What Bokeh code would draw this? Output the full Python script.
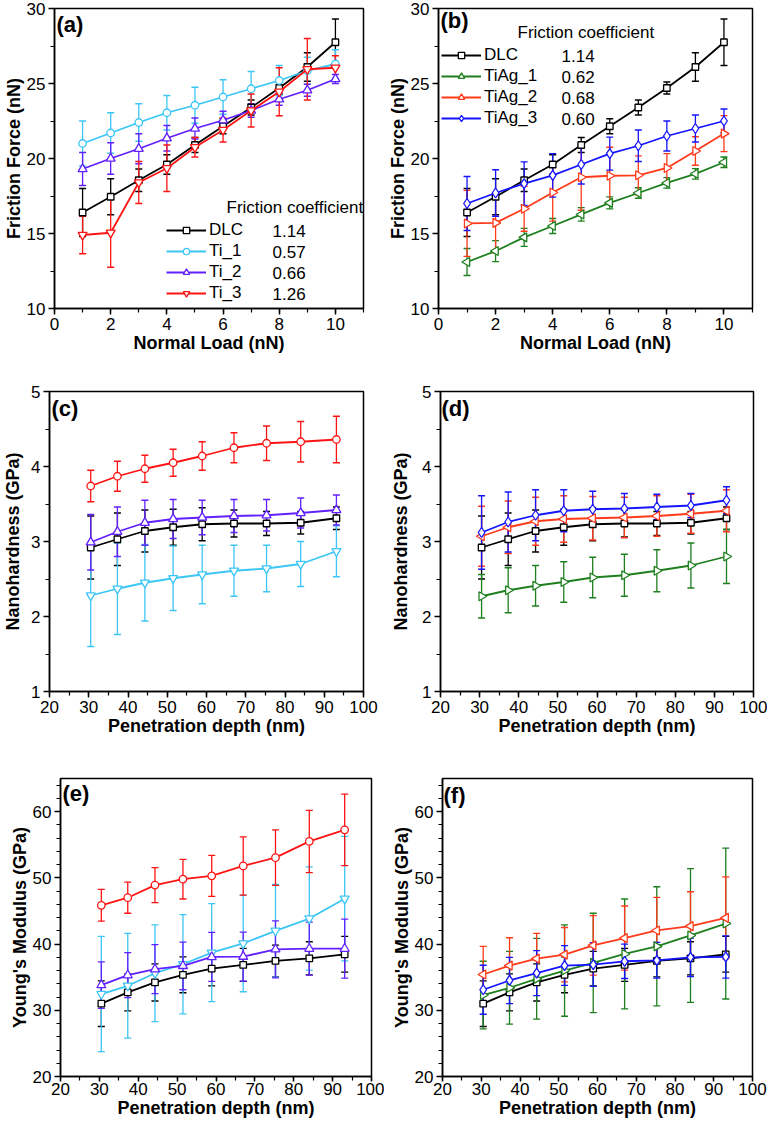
import math
from bokeh.plotting import figure
from bokeh.models import (ColumnDataSource, Whisker, TeeHead, Legend, LegendItem,
                          Label, SingleIntervalTicker, Range1d)
from bokeh.layouts import column, row
from bokeh.embed import file_html
from bokeh.resources import INLINE

FONT = "Liberation Sans"

# ---------------- data ----------------
normal_load = [1, 2, 3, 4, 5, 6, 7, 8, 9, 10]
depth = [30.5, 37.3, 44.3, 51.5, 58.9, 67.0, 75.3, 84.0, 93.1]

# friction force (nN) vs normal load
dlc_f = [16.4, 17.45, 18.55, 19.6, 20.9, 22.15, 23.4, 24.7, 26.1, 27.75]
dlc_f_err = [1.6, 1.2, 0.75, 0.65, 0.5, 0.5, 0.5, 0.4, 0.95, 1.55]
ti1_f = [21.0, 21.7, 22.4, 23.05, 23.55, 24.1, 24.65, 25.2, 25.85, 26.3]
ti1_f_err = [1.5, 1.35, 1.25, 1.15, 1.2, 1.15, 1.15, 1.0, 0.9, 0.95]
ti2_f = [19.3, 20.0, 20.65, 21.35, 22.0, 22.55, 23.2, 23.95, 24.55, 25.3]
ti2_f_err = [1.1, 1.05, 1.0, 0.85, 0.7, 0.6, 0.45, 0.4, 0.4, 0.3]
ti3_f = [14.9, 15.05, 18.4, 19.35, 20.75, 21.9, 23.2, 24.45, 25.95, 26.05]
ti3_f_err = [1.25, 2.3, 1.4, 1.55, 0.65, 0.8, 1.1, 1.6, 2.05, 0.8]
tiag1_f = [13.1, 13.83, 14.74, 15.5, 16.27, 17.04, 17.7, 18.37, 18.98, 19.75]
tiag1_f_err = [0.9, 0.7, 0.6, 0.5, 0.45, 0.4, 0.35, 0.35, 0.35, 0.35]
tiag2_f = [15.67, 15.71, 16.65, 17.73, 18.75, 18.85, 18.88, 19.37, 20.5, 21.66]
tiag2_f_err = [2.2, 2.0, 1.5, 1.9, 2.2, 1.9, 1.3, 0.95, 0.95, 1.2]
tiag3_f = [17.0, 17.7, 18.33, 18.88, 19.6, 20.33, 20.85, 21.5, 22.0, 22.5]
tiag3_f_err = [1.8, 1.55, 1.45, 1.45, 1.3, 1.1, 1.05, 1.0, 0.9, 0.8]

# friction coefficients shown in the legends
names_ti = ["DLC", "Ti_1", "Ti_2", "Ti_3"]
mu_ti = ["1.14", "0.57", "0.66", "1.26"]
names_tiag = ["DLC", "TiAg_1", "TiAg_2", "TiAg_3"]
mu_tiag = ["1.14", "0.62", "0.68", "0.60"]

# nanohardness (GPa) vs penetration depth
dlc_h = [2.92, 3.03, 3.14, 3.19, 3.23, 3.24, 3.24, 3.25, 3.31]
dlc_h_err = [0.42, 0.35, 0.28, 0.24, 0.22, 0.18, 0.16, 0.15, 0.15]
ti1_h = [2.28, 2.37, 2.45, 2.51, 2.56, 2.61, 2.64, 2.70, 2.87]
ti1_h_err = [0.68, 0.61, 0.51, 0.43, 0.39, 0.34, 0.31, 0.30, 0.34]
ti2_h = [2.99, 3.13, 3.25, 3.30, 3.32, 3.34, 3.35, 3.38, 3.42]
ti2_h_err = [0.37, 0.33, 0.30, 0.26, 0.23, 0.22, 0.21, 0.20, 0.20]
ti3_h = [3.74, 3.87, 3.97, 4.05, 4.14, 4.25, 4.31, 4.33, 4.36]
ti3_h_err = [0.21, 0.20, 0.18, 0.18, 0.19, 0.20, 0.23, 0.27, 0.31]
tiag1_h = [2.27, 2.35, 2.41, 2.46, 2.52, 2.55, 2.61, 2.68, 2.80]
tiag1_h_err = [0.29, 0.30, 0.27, 0.27, 0.27, 0.28, 0.28, 0.30, 0.36]
tiag2_h = [3.07, 3.19, 3.27, 3.30, 3.31, 3.32, 3.34, 3.37, 3.41]
tiag2_h_err = [0.40, 0.35, 0.32, 0.31, 0.29, 0.27, 0.27, 0.26, 0.28]
tiag3_h = [3.12, 3.26, 3.35, 3.41, 3.43, 3.44, 3.46, 3.48, 3.55]
tiag3_h_err = [0.49, 0.40, 0.34, 0.28, 0.24, 0.20, 0.17, 0.16, 0.18]

# Young's modulus (GPa) vs penetration depth
dlc_e = [31.0, 32.7, 34.2, 35.35, 36.3, 36.85, 37.45, 37.85, 38.45]
dlc_e_err = [3.45, 2.8, 2.8, 2.7, 2.6, 2.5, 2.4, 2.5, 2.7]
ti1_e = [32.45, 33.7, 35.6, 36.95, 38.7, 40.1, 42.0, 43.85, 46.85]
ti1_e_err = [8.7, 7.9, 7.3, 7.5, 7.4, 7.3, 7.0, 7.8, 9.4]
ti2_e = [33.8, 35.3, 36.2, 36.7, 38.05, 38.1, 39.2, 39.3, 39.3]
ti2_e_err = [3.5, 3.4, 3.7, 3.6, 3.7, 3.7, 4.3, 4.0, 4.45]
ti3_e = [45.85, 47.0, 48.9, 49.8, 50.3, 51.8, 53.05, 55.5, 57.25]
ti3_e_err = [2.4, 2.35, 2.65, 3.0, 3.1, 4.4, 4.2, 4.7, 5.4]
tiag1_e = [32.3, 33.4, 34.75, 36.0, 37.15, 38.5, 39.65, 41.3, 43.1]
tiag1_e_err = [5.1, 5.5, 6.1, 6.9, 7.5, 8.3, 9.0, 10.1, 11.4]
tiag2_e = [35.4, 36.75, 37.8, 38.4, 39.8, 40.9, 42.05, 42.7, 43.95]
tiag2_e_err = [4.25, 4.2, 3.8, 4.1, 4.5, 4.85, 5.0, 5.2, 6.2]
tiag3_e = [33.1, 34.5, 35.6, 36.75, 36.9, 37.4, 37.55, 38.0, 38.05]
tiag3_e_err = [3.7, 3.5, 3.4, 3.0, 3.3, 2.6, 2.7, 2.9, 3.2]

# ---------------- styles ----------------
C_DLC = "#000000"
C_TI1 = "#3CC6F5"
C_TI2 = "#6220FF"
C_TI3 = "#FF1414"
C_AG1 = "#1E7F1E"
C_AG2 = "#FF3A1A"
C_AG3 = "#1414FF"

LEFT = math.pi / 2
RIGHT = -math.pi / 2

TICK_FS = "17px"
TITLE_FS = "18px"
LEGEND_FS = "17px"


def make_fig(width, height, borders, xr, yr, xtick, ytick, xlabel, ylabel):
    left, right, top, bottom = borders
    p = figure(width=width, height=height,
               x_range=Range1d(*xr), y_range=Range1d(*yr),
               output_backend="svg", toolbar_location=None,
               min_border_left=left, min_border_right=right,
               min_border_top=top, min_border_bottom=bottom)
    p.grid.visible = False
    p.outline_line_color = "black"
    p.outline_line_width = 1.5
    p.outline_line_alpha = 1.0
    p.xaxis.ticker = SingleIntervalTicker(interval=xtick[0], num_minor_ticks=xtick[1])
    p.yaxis.ticker = SingleIntervalTicker(interval=ytick[0], num_minor_ticks=ytick[1])
    p.xaxis.axis_label = xlabel
    p.yaxis.axis_label = ylabel
    for ax in (p.xaxis[0], p.yaxis[0]):
        ax.axis_line_width = 1.5
        ax.axis_line_color = "black"
        ax.major_tick_line_width = 1.5
        ax.minor_tick_line_width = 1.2
        ax.major_tick_out = 6
        ax.major_tick_in = 0
        ax.minor_tick_out = 4
        ax.minor_tick_in = 0
        ax.major_label_text_font = FONT
        ax.major_label_text_font_size = TICK_FS
        ax.major_label_text_color = "black"
        ax.major_label_standoff = 3
        ax.axis_label_text_font = FONT
        ax.axis_label_text_font_style = "bold"
        ax.axis_label_text_font_size = TITLE_FS
        ax.axis_label_text_color = "black"
        ax.axis_label_standoff = 0
    return p


def add_series(p, x, y, err, color, marker, size=8, angle=0.0):
    src = ColumnDataSource(dict(
        x=x, y=y,
        lo=[v - e for v, e in zip(y, err)],
        hi=[v + e for v, e in zip(y, err)],
    ))
    w = Whisker(source=src, base="x", upper="hi", lower="lo", dimension="height",
                line_color=color, line_width=1.3,
                upper_head=TeeHead(size=7, line_color=color, line_width=1.3),
                lower_head=TeeHead(size=7, line_color=color, line_width=1.3))
    p.add_layout(w)
    ln = p.line("x", "y", source=src, line_color=color, line_width=1.8)
    sc = p.scatter("x", "y", source=src, marker=marker, size=size, angle=angle,
                   line_color=color, fill_color="white", line_width=1.3)
    return [ln, sc]


def panel_tag(p, text, dx, dy_from_top, frame_h):
    p.add_layout(Label(x=dx, y=frame_h - dy_from_top, x_units="screen", y_units="screen",
                       text=text, text_font=FONT, text_font_style="bold",
                       text_font_size="22px", text_baseline="middle", text_color="black"))


def add_legend(p, renderers, names, values, loc, value_x, title_pos):
    items = [LegendItem(label=n, renderers=r) for n, r in zip(names, renderers)]
    leg = Legend(items=items, location=loc, orientation="vertical",
                 border_line_alpha=0, background_fill_alpha=0,
                 padding=0, margin=0, spacing=1,
                 glyph_width=40, glyph_height=16, label_height=20,
                 label_standoff=3, label_text_font=FONT,
                 label_text_font_size=LEGEND_FS, label_text_color="black")
    p.add_layout(leg)
    n = len(names)
    for i, v in enumerate(values):
        yc = loc[1] + 10 + 21 * (n - 1 - i)
        p.add_layout(Label(x=value_x, y=yc, x_units="screen", y_units="screen",
                           text=v, text_font=FONT, text_font_size=LEGEND_FS,
                           text_baseline="middle", text_color="black"))
    p.add_layout(Label(x=title_pos[0], y=title_pos[1], x_units="screen", y_units="screen",
                       text="Friction coefficient", text_font=FONT, text_font_size=LEGEND_FS,
                       text_baseline="middle", text_color="black"))


# ---------------- (a) ----------------
pa = make_fig(384, 360, (51, 21, 8, 51), (0, 11), (10, 30), (2, 2), (5, 2),
              "Normal Load (nN)", "Friction Force (nN)")
ra = [
    add_series(pa, normal_load, dlc_f, dlc_f_err, C_DLC, "square", 6.5),
    add_series(pa, normal_load, ti1_f, ti1_f_err, C_TI1, "circle", 7.5),
    add_series(pa, normal_load, ti2_f, ti2_f_err, C_TI2, "triangle", 9),
    add_series(pa, normal_load, ti3_f, ti3_f_err, C_TI3, "inverted_triangle", 9),
]
add_legend(pa, ra, names_ti, mu_ti, (112, 5), 218, (172, 101))
panel_tag(pa, "(a)", 2, 17, 301)

# ---------------- (b) ----------------
pb = make_fig(383, 360, (54, 15, 7, 52), (0, 11), (10, 30), (2, 2), (5, 2),
              "Normal Load (nN)", "Friction Force (nN)")
rb = [
    add_series(pb, normal_load, dlc_f, dlc_f_err, C_DLC, "square", 6.5),
    add_series(pb, normal_load, tiag1_f, tiag1_f_err, C_AG1, "triangle", 9, LEFT),
    add_series(pb, normal_load, tiag2_f, tiag2_f_err, C_AG2, "triangle", 9, RIGHT),
    add_series(pb, normal_load, tiag3_f, tiag3_f_err, C_AG3, "diamond", 10),
]
add_legend(pb, rb, names_tiag, mu_tiag, (3, 180), 123, (79, 276))
panel_tag(pb, "(b)", 2, 13, 301)

# ---------------- (c) ----------------
pc = make_fig(384, 384, (49, 21, 31, 53), (20, 100), (1, 5), (10, 2), (1, 2),
              "Penetration depth (nm)", "Nanohardness (GPa)")
pc.yaxis.axis_label_standoff = 5
add_series(pc, depth, dlc_h, dlc_h_err, C_DLC, "square", 6.5)
add_series(pc, depth, ti1_h, ti1_h_err, C_TI1, "inverted_triangle", 9)
add_series(pc, depth, ti2_h, ti2_h_err, C_TI2, "triangle", 9)
add_series(pc, depth, ti3_h, ti3_h_err, C_TI3, "circle", 7.5)
panel_tag(pc, "(c)", 2, 17, 300)

# ---------------- (d) ----------------
pd_ = make_fig(383, 384, (56, 14, 31, 53), (20, 100), (1, 5), (10, 2), (1, 2),
               "Penetration depth (nm)", "Nanohardness (GPa)")
pd_.yaxis.axis_label_standoff = 8
add_series(pd_, depth, dlc_h, dlc_h_err, C_DLC, "square", 6.5)
add_series(pd_, depth, tiag1_h, tiag1_h_err, C_AG1, "triangle", 9, RIGHT)
add_series(pd_, depth, tiag2_h, tiag2_h_err, C_AG2, "triangle", 9, LEFT)
add_series(pd_, depth, tiag3_h, tiag3_h_err, C_AG3, "diamond", 10)
panel_tag(pd_, "(d)", 1, 17, 300)

# ---------------- (e) ----------------
pe = make_fig(384, 377, (60, 13, 34, 45), (20, 100), (20, 65), (10, 2), (10, 5),
              "Penetration depth (nm)", "Young's Modulus (GPa)")
pe.xaxis.major_label_standoff = 1
pe.xaxis.major_tick_out = 5
add_series(pe, depth, dlc_e, dlc_e_err, C_DLC, "square", 6.5)
add_series(pe, depth, ti1_e, ti1_e_err, C_TI1, "inverted_triangle", 9)
add_series(pe, depth, ti2_e, ti2_e_err, C_TI2, "triangle", 9)
add_series(pe, depth, ti3_e, ti3_e_err, C_TI3, "circle", 7.5)
panel_tag(pe, "(e)", 2, 15, 298)

# ---------------- (f) ----------------
pf = make_fig(383, 377, (58, 15, 34, 45), (20, 100), (20, 65), (10, 2), (10, 5),
              "Penetration depth (nm)", "Young's Modulus (GPa)")
pf.xaxis.major_label_standoff = 1
pf.xaxis.major_tick_out = 5
add_series(pf, depth, dlc_e, dlc_e_err, C_DLC, "square", 6.5)
add_series(pf, depth, tiag1_e, tiag1_e_err, C_AG1, "triangle", 9, RIGHT)
add_series(pf, depth, tiag2_e, tiag2_e_err, C_AG2, "triangle", 9, LEFT)
add_series(pf, depth, tiag3_e, tiag3_e_err, C_AG3, "diamond", 10)
panel_tag(pf, "(f)", 1, 17, 298)

layout = column(row(pa, pb), row(pc, pd_), row(pe, pf))

open("out.html", "w").write(file_html(layout, INLINE))
